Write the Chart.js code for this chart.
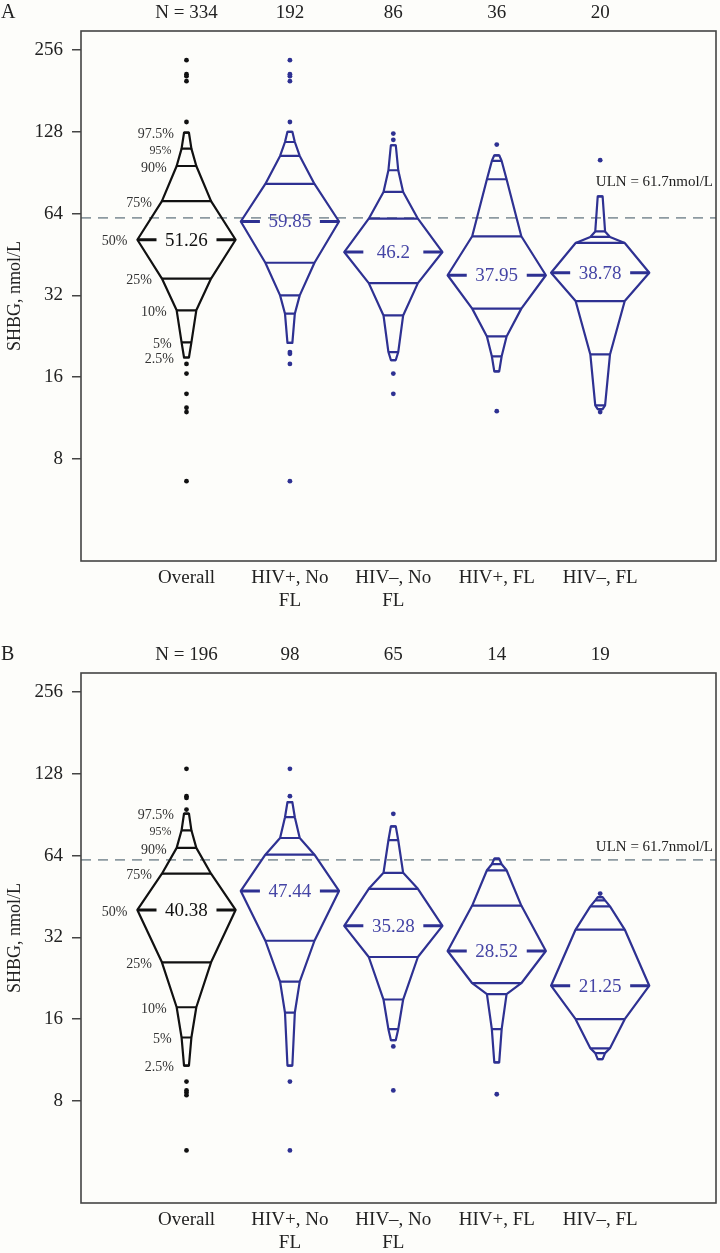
<!DOCTYPE html>
<html>
<head>
<meta charset="utf-8">
<script src="https://cdn.jsdelivr.net/npm/chart.js@4.4.1/dist/chart.umd.min.js"></script>
<style>
  html, body { margin: 0; padding: 0; background: #fdfdfa; }
  .panel { position: absolute; left: 0; width: 720px; height: 611px; }
  #panelA { top: 0; }
  #panelB { top: 642px; }
</style>
</head>
<body>
<div class="panel" id="panelA"><canvas id="chartA" width="720" height="611"></canvas></div>
<div class="panel" id="panelB"><canvas id="chartB" width="720" height="611"></canvas></div>
<script>
// categories and shared scale bits
const groups = [['Overall'], ['HIV+, No', 'FL'], ['HIV–, No', 'FL'], ['HIV+, FL'], ['HIV–, FL']];
const levels = [2.5, 5, 10, 25, 50, 75, 90, 95, 97.5];
const levelLabels = ['2.5%', '5%', '10%', '25%', '50%', '75%', '90%', '95%', '97.5%'];
const yTicks = [8, 16, 32, 64, 128, 256];
const ULN = 61.7;

// panel A: percentiles (2.5 ... 97.5) per group, and outlying points
const countsA = [334, 192, 86, 36, 20];
const overallA = [18.9, 21.5, 28.2, 36.9, 51.26, 71.1, 95.8, 111, 127];
const hivPosNoFlA = [21.4, 27.4, 32.0, 42.2, 59.85, 82.3, 104.3, 117.4, 128];
const hivNegNoFlA = [18.5, 19.8, 27.0, 35.5, 46.2, 61.3, 76.9, 92.4, 114.2];
const hivPosFlA = [16.8, 19.1, 22.6, 28.6, 37.95, 52.8, 85.6, 100, 104.9];
const hivNegFlA = [12.2, 12.6, 19.4, 30.5, 38.78, 49.9, 52.5, 55, 74];
const outOverallA = [234.8, 208.5, 205, 196.5, 139.1, 17.9, 16.5, 13.9, 12.35, 11.9, 6.63];
const outHivPosNoFlA = [234.8, 208.5, 205, 196.5, 139.1, 19.8, 19.5, 17.9, 6.63];
const outHivNegNoFlA = [126.1, 119.6, 16.5, 13.9];
const outHivPosFlA = [114.9, 12.0];
const outHivNegFlA = [100.6, 11.9];

// panel B
const countsB = [196, 98, 65, 14, 19];
const overallB = [10.8, 13.7, 17.7, 25.9, 40.38, 54.9, 68.3, 79.3, 91.4];
const hivPosNoFlB = [10.8, 16.9, 22.0, 31.1, 47.44, 64.5, 74.3, 88.6, 100.6];
const hivNegNoFlB = [13.4, 14.7, 18.9, 27.1, 35.28, 48.3, 55.3, 72.9, 82.0];
const hivPosFlB = [11.1, 14.7, 19.8, 21.7, 28.52, 41.9, 56.5, 59.5, 62.4];
const hivNegFlB = [11.4, 12.0, 12.5, 16.0, 21.25, 34.2, 41.6, 43.8, 45.0];
const outOverallB = [133.5, 105.9, 104.3, 94.5, 9.43, 8.75, 8.59, 8.40, 5.26];
const outHivPosNoFlB = [133.5, 105.9, 9.43, 5.26];
const outHivNegNoFlB = [91.2, 12.7, 8.75];
const outHivPosFlB = [8.47];
const outHivNegFlB = [46.4];

const SERIF = "'Liberation Serif', 'DejaVu Serif', serif";
const TXT = '#222';
const BLACK = '#111';
const BLUE = '#2e3192';
const BLUE_TXT = '#4545a5';
const SHAPE_W = 0.95;   // shape width at the median, in category units
const MED_GAP = 0.29;   // half gap in the median line for its label

const halfW = p => SHAPE_W * Math.min(p, 100 - p) / 100;
const colorOf = i => (i === 0 ? BLACK : BLUE);

function groupDatasets(i, vals, outs) {
  const color = colorOf(i);
  const outline = [];
  levels.forEach((p, k) => outline.push({x: i - halfW(p), y: vals[k]}));
  for (let k = levels.length - 1; k >= 0; k--) outline.push({x: i + halfW(levels[k]), y: vals[k]});
  outline.push(outline[0]);

  const rungs = [];
  levels.forEach((p, k) => {
    if (p === 50) return;
    rungs.push({x: i - halfW(p), y: vals[k]}, {x: i + halfW(p), y: vals[k]}, {x: i, y: null});
  });

  const m = vals[levels.indexOf(50)];
  const median = [
    {x: i - halfW(50), y: m}, {x: i - MED_GAP, y: m}, {x: i, y: null},
    {x: i + MED_GAP, y: m}, {x: i + halfW(50), y: m}
  ];

  return [
    {data: outline, borderColor: color, borderWidth: 2.2, borderJoinStyle: 'round', borderCapStyle: 'round'},
    {data: rungs, borderColor: color, borderWidth: 2.2},
    {data: median, borderColor: color, borderWidth: 3},
    {data: outs.map(v => ({x: i, y: v})), showLine: false, pointRadius: 2.4,
     pointBackgroundColor: color, pointBorderWidth: 0}
  ];
}

const annotate = {
  id: 'annotate',
  beforeDatasetsDraw(chart) {
    const {ctx, chartArea: a, scales: {y}} = chart;
    const yy = y.getPixelForValue(ULN);
    ctx.save();
    ctx.strokeStyle = '#8d9aa1';
    ctx.lineWidth = 1.6;
    ctx.setLineDash([10, 7]);
    ctx.beginPath();
    ctx.moveTo(a.left, yy);
    ctx.lineTo(a.right, yy);
    ctx.stroke();
    ctx.restore();
  },
  afterDraw(chart, args, opts) {
    const {ctx, chartArea: a, scales: {x, y}} = chart;
    ctx.save();
    // frame
    ctx.strokeStyle = '#444';
    ctx.lineWidth = 1.6;
    ctx.strokeRect(a.left, a.top, a.right - a.left, a.bottom - a.top);

    // panel letter and counts
    ctx.fillStyle = TXT;
    ctx.textBaseline = 'middle';
    ctx.font = '20px ' + SERIF;
    ctx.textAlign = 'left';
    ctx.fillText(opts.letter, 1, 13);
    ctx.font = '19px ' + SERIF;
    ctx.textAlign = 'center';
    opts.counts.forEach((n, i) => {
      ctx.fillText(i === 0 ? 'N = ' + n : String(n), x.getPixelForValue(i), 13);
    });

    // ULN label
    ctx.font = '15px ' + SERIF;
    ctx.textAlign = 'right';
    ctx.fillText('ULN = ' + ULN + 'nmol/L', a.right - 3, y.getPixelForValue(ULN) + opts.ulnDy);

    // median values
    ctx.font = '19px ' + SERIF;
    ctx.textAlign = 'center';
    opts.pct.forEach((vals, i) => {
      const m = vals[levels.indexOf(50)];
      ctx.fillStyle = i === 0 ? BLACK : BLUE_TXT;
      ctx.fillText(String(m), x.getPixelForValue(i), y.getPixelForValue(m) + 1);
    });

    // percentile names beside the overall shape
    ctx.fillStyle = '#333';
    ctx.textAlign = 'right';
    levels.forEach((p, k) => {
      ctx.font = (p === 95 ? '12px ' : '14px ') + SERIF;
      const v = opts.pct[0][k];
      ctx.fillText(levelLabels[k], x.getPixelForValue(-halfW(p)) - 10, y.getPixelForValue(v) + 2);
    });
    ctx.restore();
  }
};

function makePanel(id, letter, counts, pct, outs, ulnDy) {
  const datasets = [];
  pct.forEach((vals, i) => datasets.push(...groupDatasets(i, vals, outs[i])));
  return new Chart(document.getElementById(id), {
    type: 'line',
    data: {datasets},
    plugins: [annotate],
    options: {
      responsive: false,
      animation: false,
      devicePixelRatio: 1,
      layout: {padding: {top: 31, right: 4, left: 0, bottom: 0}},
      elements: {point: {radius: 0}, line: {tension: 0, fill: false}},
      plugins: {
        legend: {display: false},
        tooltip: {enabled: false},
        annotate: {letter, counts, pct, ulnDy}
      },
      scales: {
        x: {
          type: 'linear', min: -1.02, max: 5.12, bounds: 'data',
          afterBuildTicks: s => { s.ticks = groups.map((g, i) => ({value: i})); },
          afterFit: s => { s.height = 50; },
          grid: {display: false, drawTicks: false},
          border: {display: false},
          ticks: {autoSkip: false, maxRotation: 0, padding: 6, color: TXT,
                  font: {family: SERIF, size: 19}, callback: v => groups[v]}
        },
        y: {
          type: 'logarithmic', min: 3.37, max: 300.7, bounds: 'data',
          afterBuildTicks: s => { s.ticks = yTicks.map(v => ({value: v})); },
          afterFit: s => { s.width = 81; },
          grid: {drawOnChartArea: false, drawTicks: true, tickLength: 9, color: '#444', lineWidth: 1.5},
          border: {display: false},
          ticks: {padding: 9, color: TXT, font: {family: SERIF, size: 19}, callback: v => String(v)},
          title: {display: true, text: 'SHBG, nmol/L', color: TXT,
                  font: {family: SERIF, size: 18}, padding: {top: 4, bottom: 0}}
        }
      }
    }
  });
}

makePanel('chartA', 'A', countsA,
  [overallA, hivPosNoFlA, hivNegNoFlA, hivPosFlA, hivNegFlA],
  [outOverallA, outHivPosNoFlA, outHivNegNoFlA, outHivPosFlA, outHivNegFlA], -36);

makePanel('chartB', 'B', countsB,
  [overallB, hivPosNoFlB, hivNegNoFlB, hivPosFlB, hivNegFlB],
  [outOverallB, outHivPosNoFlB, outHivNegNoFlB, outHivPosFlB, outHivNegFlB], -13);
</script>
</body>
</html>
